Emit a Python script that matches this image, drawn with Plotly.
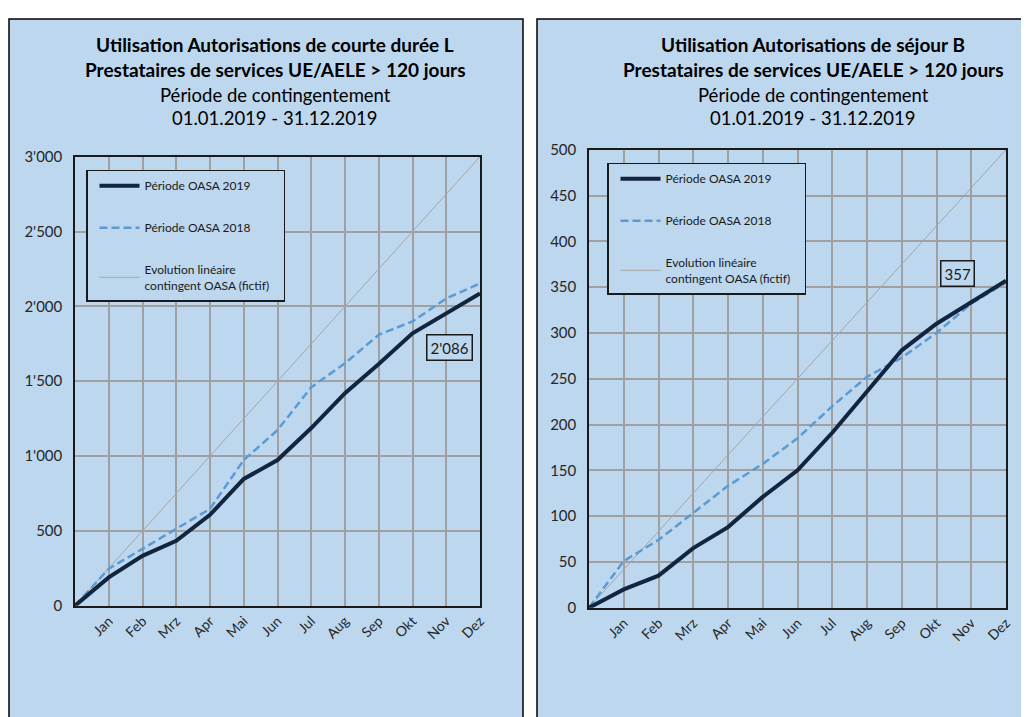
import plotly.graph_objects as go

months = ["Jan", "Feb", "Mrz", "Apr", "Mai", "Jun", "Jul", "Aug", "Sep", "Okt", "Nov", "Dez"]
x_idx = list(range(13))  # 0 = start of period, 1..12 = months

# Left chart: short-term permits L
L_2019 = [0, 189, 333, 433, 607, 847, 973, 1187, 1420, 1615, 1820, 1953, 2086]
L_2018 = [0, 247, 380, 513, 647, 973, 1173, 1460, 1620, 1810, 1900, 2053, 2153]
L_linear = [0, 250, 500, 750, 1000, 1250, 1500, 1750, 2000, 2250, 2500, 2750, 3000]

# Right chart: residence permits B
B_2019 = [0, 20, 35, 65, 88, 121, 150, 191, 236, 281, 310, 333, 357]
B_2018 = [0, 51, 74, 104, 133, 157, 185, 220, 252, 273, 300, 332, 355]
B_linear = [0, 41.7, 83.3, 125, 166.7, 208.3, 250, 291.7, 333.3, 375, 416.7, 458.3, 500]

W, H = 1029, 717
BG = "#BDD7EE"
NAVY = "#12253E"
BLUE = "#5B9BD5"
GREY = "#A6A6A6"
FONT = "Lato"

# screen-pixel -> paper fraction (calibrated to the viewer)
def px(x):
    return (x - 8) / 1022

def py(y):
    return 1 - (y - 17.3) / 699

fig = go.Figure()

names = ["Période OASA 2019", "Période OASA 2018",
         "Evolution linéaire<br>contingent OASA (fictif)&nbsp;&nbsp;&nbsp;"]

def add_series(y19, y18, ylin, xa, ya, leg):
    fig.add_trace(go.Scatter(x=x_idx, y=ylin, mode="lines", name=names[2],
                             line=dict(color=GREY, width=1), xaxis=xa, yaxis=ya,
                             legend=leg, legendgroup=leg + "c", legendrank=3))
    fig.add_trace(go.Scatter(x=x_idx, y=y18, mode="lines", name=names[1],
                             line=dict(color=BLUE, width=2.5, dash="8px,4px"), xaxis=xa, yaxis=ya,
                             legend=leg, legendgroup=leg + "b", legendrank=2))
    fig.add_trace(go.Scatter(x=x_idx, y=y19, mode="lines", name=names[0],
                             line=dict(color=NAVY, width=4), xaxis=xa, yaxis=ya,
                             legend=leg, legendgroup=leg + "a", legendrank=1))

add_series(L_2019, L_2018, L_linear, "x", "y", "legend")
add_series(B_2019, B_2018, B_linear, "x2", "y2", "legend2")

xcommon = dict(range=[0, 12], tickvals=x_idx, ticktext=[""] + months, tickangle=-45,
               showgrid=True, gridcolor="#A0A0A0", gridwidth=1.5,
               showline=True, mirror=True, linecolor="#1a1a1a", linewidth=1.5,
               zeroline=False, ticks="", tickfont=dict(family=FONT, size=14, color="#262626"),
               fixedrange=True)
ycommon = dict(showgrid=True, gridcolor="#A0A0A0", gridwidth=1.5,
               showline=True, mirror=True, linecolor="#1a1a1a", linewidth=1.5,
               zeroline=False, ticks="", ticklabelstandoff=8,
               tickfont=dict(family=FONT, size=15, color="#262626"), fixedrange=True)

legcommon = dict(bgcolor=BG, bordercolor="#1a1a1a", borderwidth=1.5,
                 font=dict(family=FONT, size=12, color="#1a1a1a"),
                 xanchor="left", yanchor="top", traceorder="grouped",
                 tracegroupgap=23, itemwidth=40, indentation=7)

fig.update_layout(
    width=W, height=H,
    margin=dict(l=0, r=0, t=0, b=0),
    paper_bgcolor="white", plot_bgcolor="white",
    separators=".'",
    xaxis=dict(xcommon, domain=[px(75), px(480)], anchor="y"),
    yaxis=dict(ycommon, domain=[py(605), py(156)], range=[0, 3000], dtick=500,
               tickformat=",d", anchor="x"),
    xaxis2=dict(xcommon, domain=[px(589), px(1006)], anchor="y2"),
    yaxis2=dict(ycommon, domain=[py(607), py(149)], range=[0, 500], dtick=50,
                tickformat="d", anchor="x2"),
    legend=dict(legcommon, x=px(86), y=py(169)),
    legend2=dict(legcommon, x=px(607), y=py(162)),
    showlegend=True,
)

# Panel backgrounds with black frame
for x0, x1 in [(9, 523), (537, 1045)]:
    fig.add_shape(type="rect", xref="paper", yref="paper",
                  x0=px(x0), x1=px(x1), y0=py(740), y1=0.9985,
                  fillcolor=BG, line=dict(color="black", width=1.5), layer="below")

# Titles
def add_title(cx, lines):
    ys = [44, 69, 94, 117]
    for (txt, bold), yy in zip(lines, ys):
        fig.add_annotation(text=f"<b>{txt}</b>" if bold else txt, xref="paper", yref="paper",
                           x=px(cx), y=py(yy), showarrow=False, xanchor="center", yanchor="middle",
                           font=dict(family=FONT, size=19 if bold else 18.5, color="black"))

add_title(275, [("Utilisation Autorisations de courte durée L", True),
                ("Prestataires de services UE/AELE > 120 jours", True),
                ("Période de contingentement", False),
                ("01.01.2019 - 31.12.2019", False)])
add_title(813, [("Utilisation Autorisations de séjour B", True),
                ("Prestataires de services UE/AELE > 120 jours", True),
                ("Période de contingentement", False),
                ("01.01.2019 - 31.12.2019", False)])

# Value labels for the last 2019 point
def fmt(v):
    return f"{v:,}".replace(",", "'")

fig.add_annotation(text=fmt(L_2019[-1]), xref="paper", yref="paper", x=px(449.5), y=py(346.5),
                   xanchor="center", yanchor="middle",
                   showarrow=False, bgcolor=BG, bordercolor="#1a1a1a", borderwidth=1.5, borderpad=3,
                   font=dict(family=FONT, size=15, color="#1a1a1a"))
fig.add_annotation(text=fmt(B_2019[-1]), xref="paper", yref="paper", x=px(957.5), y=py(273),
                   xanchor="center", yanchor="middle",
                   showarrow=False, bgcolor=BG, bordercolor="#1a1a1a", borderwidth=1.5, borderpad=3,
                   font=dict(family=FONT, size=15, color="#1a1a1a"))

fig.write_html("out.html")
